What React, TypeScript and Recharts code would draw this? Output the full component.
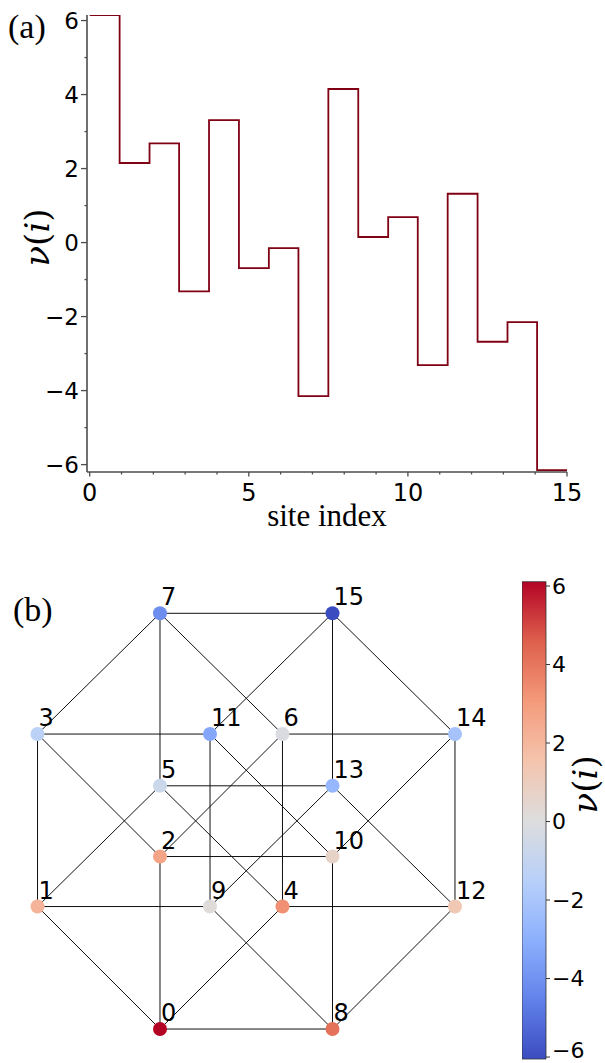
import React from "react";
import {
    LineChart,
    Line,
    XAxis,
    YAxis,
    ScatterChart,
    Scatter,
    ComposedChart,
    ReferenceArea,
} from "recharts";

// panel (a): potential per site
const sites = [0, 1, 2, 3, 4, 5, 6, 7, 8, 9, 10, 11, 12, 13, 14, 15];
const nu = [6.15, 2.15, 2.68, -1.32, 3.31, -0.69, -0.15, -4.15, 4.15, 0.15, 0.69, -3.31, 1.32, -2.68, -2.15, -6.15];
const stepStart = [0, 0.94, 1.88, 2.81, 3.75, 4.69, 5.63, 6.56, 7.5, 8.44, 9.38, 10.31, 11.25, 12.19, 13.13, 14.06];
const stepEnd = 15;
const xTicks = [0, 1, 2, 3, 4, 5, 6, 7, 8, 9, 10, 11, 12, 13, 14, 15];
const yTicks = [-6, -5, -4, -3, -2, -1, 0, 1, 2, 3, 4, 5, 6];

// panel (b): hypercube graph, node layout and edges
const nodeX = [0, -0.71, 0, -0.71, 0.71, 0, 0.71, 0, 1, 0.29, 1, 0.29, 1.71, 1, 1.71, 1];
const nodeY = [0, 0.71, 1, 1.71, 0.71, 1.41, 1.71, 2.41, 0, 0.71, 1, 1.71, 0.71, 1.41, 1.71, 2.41];
const edges: [number, number][] = [
    [0, 1], [2, 3], [4, 5], [6, 7], [8, 9], [10, 11], [12, 13], [14, 15],
    [0, 2], [1, 3], [4, 6], [5, 7], [8, 10], [9, 11], [12, 14], [13, 15],
    [0, 4], [1, 5], [2, 6], [3, 7], [8, 12], [9, 13], [10, 14], [11, 15],
    [0, 8], [1, 9], [2, 10], [3, 11], [4, 12], [5, 13], [6, 14], [7, 15],
];
const cbTicks = [-6, -4, -2, 0, 2, 4, 6];
const cbMin = -6.05;
const cbMax = 6.11;

const coolwarm = ["#3b4cc0", "#6282ea", "#8db0fe", "#b8d0f9", "#dddddd", "#f5c4ad", "#f49a7b", "#de604d", "#b40426"];

const stepData = [
    ...sites.map(i => ({ x: stepStart[i], v: nu[i] })),
    { x: stepEnd, v: nu[nu.length - 1] },
];
const nodeData = sites.map(i => ({ id: i, x: nodeX[i], y: nodeY[i], v: nu[i] }));

function hexToRgb(h: string) {
    return [1, 3, 5].map(k => parseInt(h.slice(k, k + 2), 16));
}

function cmap(v: number) {
    const t = Math.min(1, Math.max(0, (v - cbMin) / (cbMax - cbMin)));
    const pos = t * (coolwarm.length - 1);
    const i = Math.min(coolwarm.length - 2, Math.floor(pos));
    const f = pos - i;
    const a = hexToRgb(coolwarm[i]);
    const b = hexToRgb(coolwarm[i + 1]);
    const c = a.map((av, k) => Math.round(av + (b[k] - av) * f));
    return `rgb(${c[0]},${c[1]},${c[2]})`;
}

const fmt = (n: number) => (n < 0 ? "\u2212" + Math.abs(n) : String(n));

const AXIS = "#4d4d4d";
const SANS = "'DejaVu Sans', sans-serif";
const SERIF = "'Liberation Serif', serif";
const MATH = "'DejaVu Serif', serif";

function NuLabel({ x, y, size }: { x: number; y: number; size: number }) {
    return (
        <text
            x={x}
            y={y}
            textAnchor="middle"
            dominantBaseline="central"
            transform={`rotate(-90 ${x} ${y})`}
            fontFamily={MATH}
            fontSize={size}
            fill="#000"
        >
            <tspan fontStyle="italic">ν</tspan>(<tspan fontStyle="italic">i</tspan>)
        </text>
    );
}

function XTick(props: any) {
    const { x, y, payload } = props;
    const major = payload.value % 5 === 0;
    return (
        <g>
            <line x1={x} x2={x} y1={y} y2={y + (major ? 4.5 : 2.5)} stroke={AXIS} strokeWidth={1.3} />
            {major && (
                <text x={x} y={y + 29} textAnchor="middle" fontFamily={SANS} fontSize={24} fill="#000">
                    {fmt(payload.value)}
                </text>
            )}
        </g>
    );
}

function YTick(props: any) {
    const { x, y, payload } = props;
    const major = payload.value % 2 === 0;
    return (
        <g>
            <line x1={x - (major ? 6 : 2.5)} x2={x} y1={y} y2={y} stroke={AXIS} strokeWidth={1.3} />
            {major && (
                <text x={x - 8} y={y} textAnchor="end" dominantBaseline="central" fontFamily={SANS} fontSize={23} fill="#000">
                    {fmt(payload.value)}
                </text>
            )}
        </g>
    );
}

function CbTick(props: any) {
    const { x, y, payload } = props;
    // the lowest label sits on the page edge; lift it just enough to stay whole
    const ty = payload.value === cbTicks[0] ? y - 7 : y;
    return (
        <g>
            <line x1={x} x2={x + 4} y1={y} y2={y} stroke="#333" strokeWidth={1} />
            <text x={x + 6} y={ty} dominantBaseline="central" fontFamily={SANS} fontSize={22} fill="#000">
                {fmt(payload.value)}
            </text>
        </g>
    );
}

function NodeShape(props: any) {
    const { cx, cy, payload } = props;
    return (
        <g>
            <circle cx={cx} cy={cy} r={7} fill={cmap(payload.v)} />
            <text x={cx + 1} y={cy - 8} fontFamily={SANS} fontSize={24} fill="#000">
                {payload.id}
            </text>
        </g>
    );
}

const panelTag: React.CSSProperties = {
    position: "absolute",
    fontFamily: SERIF,
    fontSize: 34,
    lineHeight: "34px",
    color: "#000",
};

export default function App() {
    return (
        <div style={{ position: "absolute", left: 0, top: 0, width: 605, height: 1063, background: "#fff" }}>
            <div style={{ position: "absolute", left: 0, top: 0 }}>
                <LineChart width={605} height={540} data={stepData} margin={{ top: 15, right: 38, bottom: 38, left: 86 }}>
                    <XAxis
                        dataKey="x"
                        type="number"
                        domain={[-0.085, 15]}
                        allowDataOverflow
                        ticks={xTicks}
                        interval={0}
                        height={30}
                        axisLine={{ stroke: AXIS, strokeWidth: 1.6 }}
                        tickLine={false}
                        tickSize={0}
                        tickMargin={0}
                        tick={XTick}
                        label={(p: any) => (
                            <text
                                x={p.viewBox.x + p.viewBox.width / 2}
                                y={p.viewBox.y + 54}
                                textAnchor="middle"
                                fontFamily={SERIF}
                                fontSize={31}
                                fill="#000"
                            >
                                site index
                            </text>
                        )}
                    />
                    <YAxis
                        type="number"
                        domain={[-6.2, 6.15]}
                        allowDataOverflow
                        ticks={yTicks}
                        interval={0}
                        width={1}
                        axisLine={{ stroke: AXIS, strokeWidth: 1.6 }}
                        tickLine={false}
                        tickSize={0}
                        tickMargin={0}
                        tick={YTick}
                        label={(p: any) => (
                            <NuLabel x={p.viewBox.x - 49} y={p.viewBox.y + p.viewBox.height / 2 - 6} size={34} />
                        )}
                    />
                    <Line
                        dataKey="v"
                        type="stepAfter"
                        stroke="#800014"
                        strokeWidth={1.8}
                        dot={false}
                        isAnimationActive={false}
                    />
                </LineChart>
            </div>
            <div style={{ ...panelTag, left: 8, top: 10 }}>(a)</div>

            <div style={{ position: "absolute", left: 0, top: 560 }}>
                <ScatterChart width={500} height={503} margin={{ top: 0, right: 0, bottom: 0, left: 0 }}>
                    <XAxis type="number" dataKey="x" domain={[-0.9275, 1.971]} allowDataOverflow hide />
                    <YAxis type="number" dataKey="y" domain={[-0.197, 2.719]} allowDataOverflow hide />
                    {edges.map(([a, b]) => (
                        <Scatter
                            key={`e${a}-${b}`}
                            data={[
                                { x: nodeX[a], y: nodeY[a] },
                                { x: nodeX[b], y: nodeY[b] },
                            ]}
                            line={{ stroke: "#111", strokeWidth: 1 }}
                            shape={() => <g />}
                            isAnimationActive={false}
                        />
                    ))}
                    <Scatter data={nodeData} shape={NodeShape} isAnimationActive={false} />
                </ScatterChart>
            </div>
            <div style={{ ...panelTag, left: 13, top: 593 }}>(b)</div>

            <div style={{ position: "absolute", left: 522, top: 572 }}>
                <ComposedChart width={83} height={491} data={[{ x: 0 }]} margin={{ top: 9.7, right: 58, bottom: 4, left: 0 }}>
                    <defs>
                        <linearGradient id="cbGradient" x1="0" y1="1" x2="0" y2="0">
                            {coolwarm.map((c, i) => (
                                <stop key={c} offset={`${(i / (coolwarm.length - 1)) * 100}%`} stopColor={c} />
                            ))}
                        </linearGradient>
                    </defs>
                    <XAxis type="number" dataKey="x" domain={[0, 1]} allowDataOverflow hide />
                    <YAxis
                        orientation="right"
                        type="number"
                        domain={[cbMin, cbMax]}
                        allowDataOverflow
                        ticks={cbTicks}
                        interval={0}
                        width={1}
                        axisLine={false}
                        tickLine={false}
                        tickSize={0}
                        tickMargin={0}
                        tick={CbTick}
                        label={(p: any) => (
                            <NuLabel x={p.viewBox.x + 39} y={p.viewBox.y + p.viewBox.height / 2 - 36} size={34} />
                        )}
                    />
                    <ReferenceArea
                        x1={0}
                        x2={1}
                        y1={cbMin}
                        y2={cbMax}
                        fill="url(#cbGradient)"
                        fillOpacity={1}
                        stroke="#333"
                        strokeWidth={0.8}
                        ifOverflow="visible"
                    />
                </ComposedChart>
            </div>
        </div>
    );
}
